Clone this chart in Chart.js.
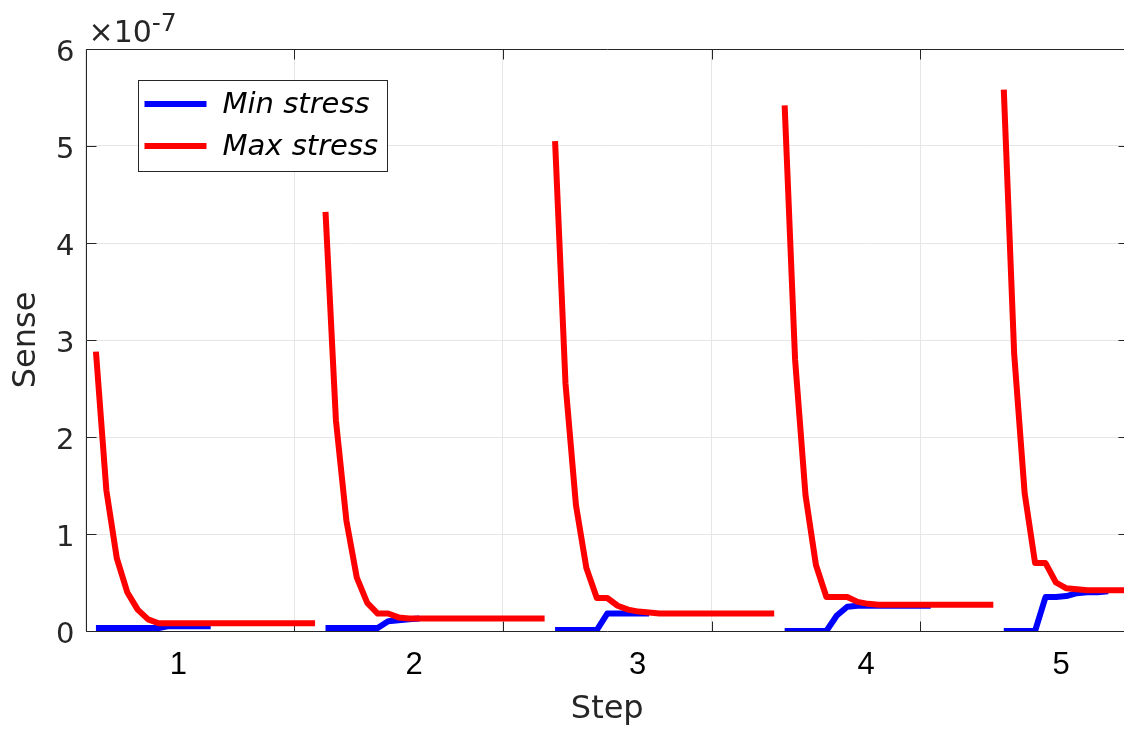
<!DOCTYPE html>
<html>
<head>
<meta charset="utf-8">
<title>Sense per step</title>
<script src="https://cdn.jsdelivr.net/npm/chart.js@4.4.1/dist/chart.umd.min.js"></script>
<style>
  html, body { margin: 0; padding: 0; background: #fff; overflow: hidden; }
  #wrap { position: relative; width: 1130px; height: 730px; }
</style>
</head>
<body>
<div id="wrap"><canvas id="senseChart"></canvas></div>
<script>
// sensitivities are stored in units of 1e-7 (axis carries the x10^-7 factor)
const stepLabels = ['1', '2', '3', '4', '5'];
const stepLabelAt = [8.9, 31.5, 52.9, 74.8, 93.5];
const stepStart = [1, 23, 45, 67, 88];

const minStress = [
  [0.03, 0.03, 0.03, 0.03, 0.03, 0.03, 0.03, 0.05, 0.05, 0.05, 0.05, 0.05],
  [0.03, 0.03, 0.03, 0.03, 0.03, 0.03, 0.10, 0.11, 0.12, 0.13],
  [0.01, 0.01, 0.01, 0.01, 0.01, 0.18, 0.18, 0.18, 0.18, 0.18],
  [0.00, 0.00, 0.00, 0.00, 0.00, 0.16, 0.25, 0.26, 0.26, 0.26, 0.26, 0.26, 0.26, 0.26, 0.26],
  [0.00, 0.00, 0.00, 0.00, 0.35, 0.35, 0.36, 0.39, 0.40, 0.40, 0.41]
];

const maxStress = [
  [2.88, 1.45, 0.75, 0.40, 0.22, 0.12, 0.08, 0.08, 0.08, 0.08, 0.08,
   0.08, 0.08, 0.08, 0.08, 0.08, 0.08, 0.08, 0.08, 0.08, 0.08, 0.08],
  [4.32, 2.17, 1.14, 0.55, 0.29, 0.18, 0.18, 0.14, 0.13, 0.13, 0.13,
   0.13, 0.13, 0.13, 0.13, 0.13, 0.13, 0.13, 0.13, 0.13, 0.13, 0.13],
  [5.05, 2.55, 1.30, 0.65, 0.34, 0.34, 0.26, 0.22, 0.20, 0.19, 0.18,
   0.18, 0.18, 0.18, 0.18, 0.18, 0.18, 0.18, 0.18, 0.18, 0.18, 0.18],
  [5.42, 2.80, 1.40, 0.68, 0.35, 0.35, 0.35, 0.30, 0.28, 0.27, 0.27,
   0.27, 0.27, 0.27, 0.27, 0.27, 0.27, 0.27, 0.27, 0.27, 0.27],
  [5.58, 2.85, 1.42, 0.70, 0.70, 0.50, 0.44, 0.43, 0.42, 0.42, 0.42, 0.42, 0.42]
];

const AXIS_COLOR = '#262626';
const GRID_COLOR = '#e6e6e6';

// one point per iteration; a null after each step breaks the line
function toPoints(steps) {
  const pts = [];
  steps.forEach((vals, k) => {
    vals.forEach((v, i) => pts.push({ x: stepStart[k] + i, y: v }));
    pts.push({ x: stepStart[k] + vals.length - 0.5, y: null });
  });
  return pts;
}

// box around the axes with inward ticks, plus the exponent label
const axesFrame = {
  id: 'axesFrame',
  beforeDatasetsDraw(chart) {
    const { ctx, chartArea: a, scales } = chart;
    const L = Math.round(a.left) + 0.5, R = Math.round(a.right) - 0.5;
    const T = Math.round(a.top) + 0.5, B = Math.round(a.bottom) + 0.5;
    ctx.save();
    ctx.strokeStyle = AXIS_COLOR;
    ctx.lineWidth = 1;
    ctx.beginPath();
    ctx.rect(L, T, R - L, B - T);
    scales.y.ticks.forEach(t => {
      const y = Math.round(scales.y.getPixelForValue(t.value)) + 0.5;
      ctx.moveTo(L, y); ctx.lineTo(L + 10, y);
      ctx.moveTo(R, y); ctx.lineTo(R - 10, y);
    });
    scales.x.ticks.forEach(t => {
      const x = Math.round(scales.x.getPixelForValue(t.value)) + 0.5;
      ctx.moveTo(x, B); ctx.lineTo(x, B - 10);
      ctx.moveTo(x, T); ctx.lineTo(x, T + 10);
    });
    ctx.stroke();

    ctx.fillStyle = AXIS_COLOR;
    ctx.textBaseline = 'alphabetic';
    ctx.textAlign = 'left';
    ctx.font = '30px "DejaVu Sans"';
    const ex = a.left + 3, ey = a.top - 7;
    ctx.fillText('\u00d710', ex, ey);
    const w = ctx.measureText('\u00d710').width;
    ctx.font = '25px "DejaVu Sans"';
    ctx.fillText('-7', ex + w, ey - 11);
    ctx.restore();
  }
};

// legend box in the upper left of the plot
const legendBox = {
  id: 'legendBox',
  afterDatasetsDraw(chart) {
    const { ctx, chartArea: a } = chart;
    const x = Math.round(a.left) + 52.5, y = Math.round(a.top) + 31.5;
    const w = 249, h = 91;
    ctx.save();
    ctx.fillStyle = '#fff';
    ctx.fillRect(x, y, w, h);
    ctx.strokeStyle = AXIS_COLOR;
    ctx.lineWidth = 1;
    ctx.strokeRect(x, y, w, h);
    chart.data.datasets.forEach((ds, i) => {
      const ly = y + 23.5 + i * 42;
      ctx.strokeStyle = ds.borderColor;
      ctx.lineWidth = 6;
      ctx.lineCap = 'butt';
      ctx.beginPath();
      ctx.moveTo(x + 6, ly);
      ctx.lineTo(x + 68, ly);
      ctx.stroke();
      ctx.fillStyle = '#000';
      ctx.font = 'italic 29px "DejaVu Sans"';
      ctx.textBaseline = 'middle';
      ctx.textAlign = 'left';
      ctx.fillText(ds.label, x + 84, ly + 1);
    });
    ctx.restore();
  }
};

new Chart(document.getElementById('senseChart').getContext('2d'), {
  type: 'line',
  data: {
    datasets: [
      { label: 'Min stress', data: toPoints(minStress), borderColor: '#0000ff', order: 1 },
      { label: 'Max stress', data: toPoints(maxStress), borderColor: '#ff0000', order: 0 }
    ]
  },
  options: {
    responsive: true,
    maintainAspectRatio: false,
    animation: false,
    datasets: {
      line: {
        borderWidth: 6,
        pointRadius: 0,
        tension: 0,
        spanGaps: false,
        borderCapStyle: 'butt',
        borderJoinStyle: 'round'
      }
    },
    layout: { padding: { top: 49, right: 1, left: 0, bottom: 0 } },
    plugins: {
      legend: { display: false },
      tooltip: { enabled: false }
    },
    scales: {
      x: {
        type: 'linear',
        min: 0,
        max: 100,
        ticks: { display: false, stepSize: 20 },
        grid: { color: GRID_COLOR, lineWidth: 1, drawTicks: false },
        border: { display: false },
        afterFit: s => { s.height = 0; }
      },
      x2: {
        type: 'linear',
        position: 'bottom',
        min: 0,
        max: 100,
        afterBuildTicks: s => { s.ticks = stepLabelAt.map(v => ({ value: v })); },
        ticks: {
          autoSkip: false,
          maxRotation: 0,
          padding: 16,
          color: '#000',
          font: { family: 'Liberation Sans', size: 31 },
          callback: (v, i) => stepLabels[i]
        },
        grid: { display: false, drawTicks: false },
        border: { display: false },
        title: {
          display: true,
          text: 'Step',
          color: AXIS_COLOR,
          font: { family: 'DejaVu Sans', size: 32, lineHeight: 1 },
          padding: { top: 0, bottom: 4 }
        },
        afterFit: s => { s.height = 99; }
      },
      y: {
        type: 'linear',
        min: 0,
        max: 6,
        ticks: {
          stepSize: 1,
          padding: 11,
          labelOffset: 4,
          color: AXIS_COLOR,
          font: { family: 'DejaVu Sans', size: 29 }
        },
        grid: { color: GRID_COLOR, lineWidth: 1, drawTicks: false },
        border: { display: false },
        title: {
          display: true,
          text: 'Sense',
          color: AXIS_COLOR,
          font: { family: 'DejaVu Sans', size: 32, lineHeight: 1 },
          padding: { top: 11, bottom: 0 }
        },
        afterFit: s => { s.width = 85.5; }
      }
    }
  },
  plugins: [axesFrame, legendBox]
});
</script>
</body>
</html>
